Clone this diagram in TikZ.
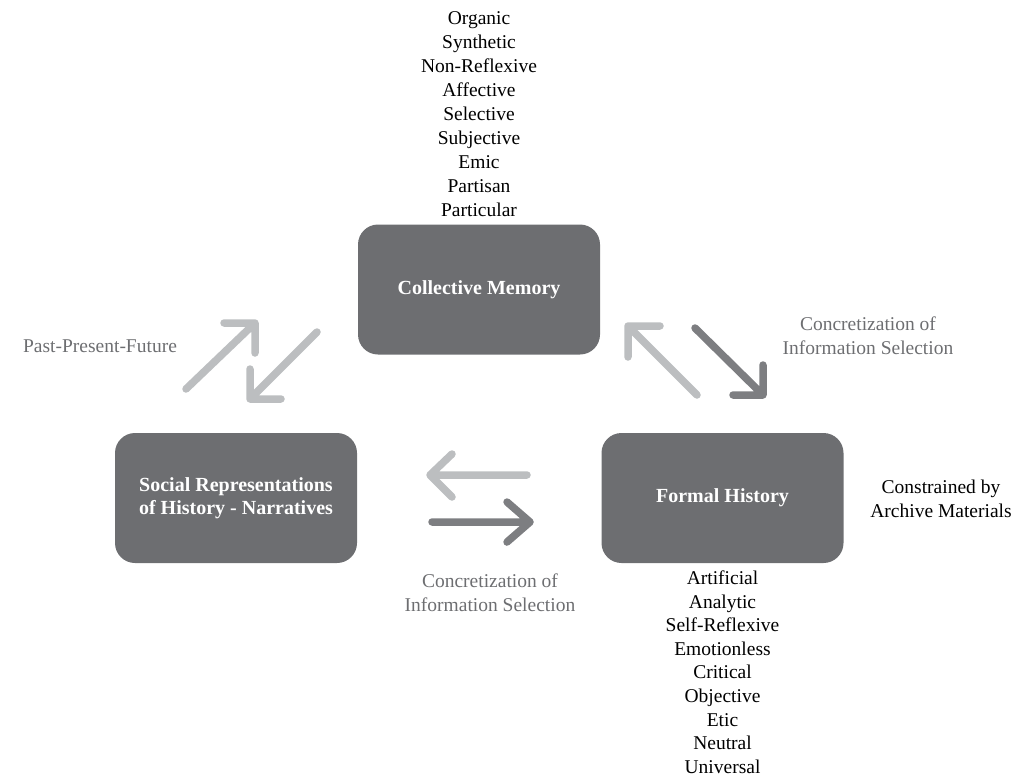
\documentclass[tikz,border=0pt]{standalone}
\usepackage{fontspec}
\setmainfont{Liberation Serif}
\definecolor{boxgray}{HTML}{6D6E71}
\definecolor{palegray}{HTML}{BCBEC0}
\definecolor{deepgray}{HTML}{7D7E81}
\definecolor{notegray}{HTML}{6D6E71}
\tikzset{
  box/.style={rectangle, rounded corners=20pt, fill=boxgray, text=white,
    minimum width=242pt, minimum height=130pt, align=center,
    font=\fontsize{20}{23.5}\selectfont\bfseries},
  trait/.style={anchor=base, inner sep=0pt, font=\fontsize{19.5}{24}\selectfont},
  note/.style={trait, text=notegray},
  pale/.style={draw=palegray, line width=7.5pt, line cap=round, line join=round},
  deep/.style={pale, draw=deepgray}
}
\begin{document}
\begin{tikzpicture}[x=1pt,y=-1pt]
\useasboundingbox (0,0) rectangle (1032,780);
% the three boxes
\node [box] (memory) at (479,289.5) {Collective Memory};
\node [box] (social) at (236,498) {Social Representations\\of History - Narratives};
\node [box] (formal) at (722.5,498) {Formal History};
% traits above and below
\foreach \w [count=\i] in {Organic,Synthetic,Non-Reflexive,Affective,Selective,Subjective,Emic,Partisan,Particular}
  \node [trait] (mem\i) at (479,{24+24*(\i-1)}) {\w};
\foreach \w [count=\i] in {Artificial,Analytic,Self-Reflexive,Emotionless,Critical,Objective,Etic,Neutral,Universal}
  \node [trait] (for\i) at (722.5,{584.5+23.6*(\i-1)}) {\w};
% side notes
\node [note] (ppf) at (100,352) {Past-Present-Future};
\node [note] (cir1) at (868,330) {Concretization of};
\node [note] (cir2) at (868,354) {Information Selection};
\node [note] (cib1) at (490,587) {Concretization of};
\node [note] (cib2) at (490,611) {Information Selection};
\node [trait] (arc1) at (941,493) {Constrained by};
\node [trait] (arc2) at (941,517) {Archive Materials};
% arrow ends
\coordinate (lu0) at (186,389);  \coordinate (lu1) at (255,323);
\coordinate (ld0) at (317,332);  \coordinate (ld1) at (250,399);
\coordinate (ru0) at (697,395);  \coordinate (ru1) at (628,326);
\coordinate (rd0) at (695,328);  \coordinate (rd1) at (763,395);
\coordinate (ml0) at (527,475);  \coordinate (ml1) at (430,475);
\coordinate (mr0) at (432,522);  \coordinate (mr1) at (530,522);
% arrows
\draw [pale] (lu0) -- (lu1) ++(-31,0) -- (lu1) -- ++(0,30);
\draw [pale] (ld0) -- (ld1) ++(0,-30) -- (ld1) -- ++(31,0);
\draw [pale] (ru0) -- (ru1) ++(32,0) -- (ru1) -- ++(0,31);
\draw [deep] (rd0) -- (rd1) ++(0,-30) -- (rd1) -- ++(-30,0);
\draw [pale] (ml0) -- (ml1) ++(22,-21) -- (ml1) -- ++(22,22);
\draw [deep] (mr0) -- (mr1) ++(-23,-20) -- (mr1) -- ++(-23,20);
\end{tikzpicture}
\end{document}
